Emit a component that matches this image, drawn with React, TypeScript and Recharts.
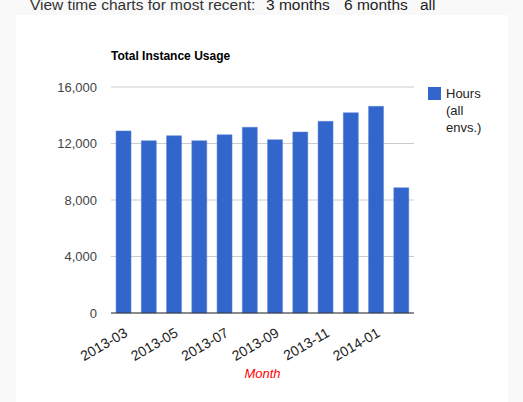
import React from 'react';
import { BarChart, Bar, XAxis, YAxis, CartesianGrid, Label } from 'recharts';

const months = ['2013-03','2013-04','2013-05','2013-06','2013-07','2013-08','2013-09','2013-10','2013-11','2013-12','2014-01','2014-02'];
const hours = [12890, 12200, 12550, 12200, 12620, 13150, 12270, 12815, 13570, 14180, 14630, 8870];
const yTicks = [0, 4000, 8000, 12000, 16000];
const seriesName = 'Hours (all envs.)';

const data = months.map((m, i) => ({ month: m, hours: hours[i] }));

const font = '"Liberation Sans", Arial, sans-serif';
const topText = { position: 'absolute' as const, top: -3, fontSize: 15.5, lineHeight: '16px', color: '#222', whiteSpace: 'nowrap' as const };

export default function App() {
  return (
    <div style={{ position: 'absolute', left: 0, top: 0, width: 523, height: 402, background: '#f9f9f9', overflow: 'hidden', fontFamily: font }}>
      <div style={{ position: 'absolute', left: 16, top: 15, width: 492, height: 400, background: '#fff' }} />
      <div style={{ ...topText, left: 30, color: '#333' }}>View time charts for most recent:</div>
      <div style={{ ...topText, left: 266 }}>3 months</div>
      <div style={{ ...topText, left: 344 }}>6 months</div>
      <div style={{ ...topText, left: 420 }}>all</div>
      <div style={{ position: 'absolute', left: 111, top: 49, fontSize: 12, fontWeight: 'bold', color: '#000', whiteSpace: 'nowrap' }}>Total Instance Usage</div>
      <div style={{ position: 'absolute', left: 0, top: 0 }}>
        <BarChart width={523} height={402} data={data} margin={{ top: 87, right: 109, bottom: 0, left: 0 }} barCategoryGap="20%">
          <CartesianGrid vertical={false} stroke="#cccccc" />
          <XAxis
            dataKey="month"
            interval={1}
            height={89}
            tickLine={false}
            axisLine={{ stroke: '#333', strokeWidth: 1 }}
            tick={{ fontSize: 14, fill: '#222', fontFamily: font }}
            angle={-30}
            textAnchor="end"
            tickMargin={8}
          >
            <Label value="Month" position="insideBottom" offset={24} style={{ fontStyle: 'italic', fill: '#ff0000', fontSize: 13, fontFamily: font }} />
          </XAxis>
          <YAxis
            width={111}
            domain={[0, 16000]}
            ticks={yTicks}
            tickFormatter={(v: number) => v.toLocaleString('en-US')}
            axisLine={false}
            tickLine={false}
            tickMargin={8}
            tick={{ fontSize: 13, fill: '#444', fontFamily: font }}
          />
          <Bar dataKey="hours" name={seriesName} fill="#3366cc" stroke="#5c85d6" strokeWidth={0.5} isAnimationActive={false} />
        </BarChart>
      </div>
      <div style={{ position: 'absolute', left: 428, top: 85, display: 'flex', alignItems: 'flex-start', fontSize: 13, color: '#222', lineHeight: '17px' }}>
        <div style={{ width: 13, height: 13, background: '#3366cc', marginTop: 2, marginRight: 5, flex: 'none' }} />
        <div style={{ width: 45 }}>{seriesName}</div>
      </div>
    </div>
  );
}
